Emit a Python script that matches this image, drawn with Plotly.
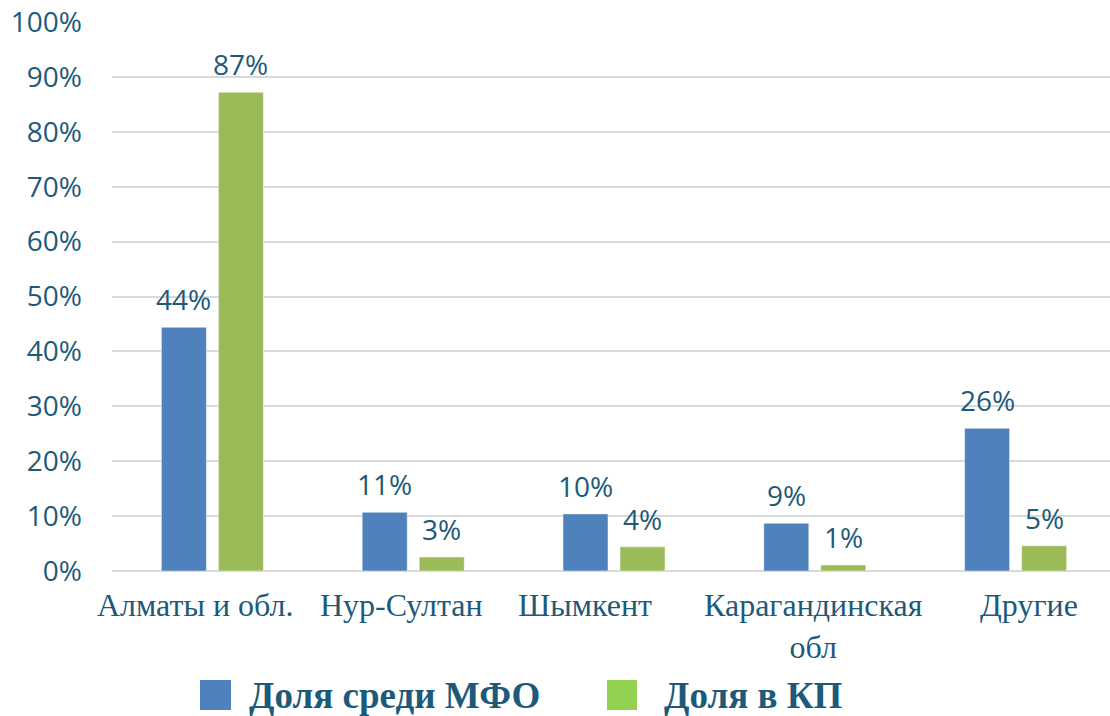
import plotly.graph_objects as go

categories = ["Алматы и обл.", "Нур-Султан", "Шымкент", "Карагандинская<br>обл", "Другие"]
mfo_share = [0.444, 0.107, 0.104, 0.087, 0.260]
kp_share = [0.872, 0.0255, 0.044, 0.011, 0.046]
series_names = ["Доля среди МФО", "Доля в КП"]
y_ticks = [0, 0.1, 0.2, 0.3, 0.4, 0.5, 0.6, 0.7, 0.8, 0.9, 1.0]

# horizontal nudge of each category label (px), as in the original layout
label_nudge = [-17, -12, -29, -1, 13]

TEXT = "#1D5A7A"
BLUE = "#4F81BD"
GREEN = "#9BBB59"

fig = go.Figure()
fig.add_trace(go.Bar(x=categories, y=mfo_share, name=series_names[0],
                     marker=dict(color=BLUE, line=dict(color="rgba(255,255,255,0.5)", width=1)),
                     showlegend=False))
fig.add_trace(go.Bar(x=categories, y=kp_share, name=series_names[1],
                     marker=dict(color=GREEN, line=dict(color="rgba(255,255,255,0.5)", width=1)),
                     showlegend=False))

# data labels
for vals, shift in ((mfo_share, -28.5), (kp_share, 28.5)):
    for c, v in zip(categories, vals):
        fig.add_annotation(x=c, y=v, xref="x", yref="y", text=f"{round(v*100):.0f}%",
                           showarrow=False, xshift=shift, yshift=7, yanchor="bottom",
                           font=dict(family="Open Sans", size=28, color=TEXT))

# category labels
for c, dx in zip(categories, label_nudge):
    fig.add_annotation(x=c, y=0, xref="x", yref="paper", text=c, showarrow=False,
                       xshift=dx, yshift=-14, yanchor="top", align="center",
                       font=dict(family="Liberation Serif", size=32, color=TEXT))

# manual legend
legend_items = [(series_names[0], BLUE, 200, 231, 247), (series_names[1], "#92D050", 607, 637, 662)]
for name, col, x0, x1, tx in legend_items:
    fig.add_shape(type="rect", xref="paper", yref="paper",
                  x0=(x0 - 112) / 998, x1=(x1 - 112) / 998,
                  y0=-(680 - 571) / 549, y1=-(710 - 571) / 549,
                  fillcolor=col, line=dict(width=0))
    fig.add_annotation(xref="paper", yref="paper", x=(tx - 112) / 998, y=-(695 - 571) / 549,
                       xanchor="left", yanchor="middle", showarrow=False, text=f"<b>{name}</b>",
                       font=dict(family="Liberation Serif", size=37, color=TEXT))

fig.update_layout(
    width=1110, height=716,
    margin=dict(l=112, r=0, t=22, b=145),
    paper_bgcolor="white", plot_bgcolor="white",
    barmode="group", bargap=0.432, bargroupgap=0.21,
    showlegend=False,
    xaxis=dict(type="category", range=[-0.5, 4.47], showgrid=False, ticks="",
               showline=False, showticklabels=False, automargin=False),
    yaxis=dict(range=[0, 1.0], tickvals=y_ticks, tickformat=".0%", showgrid=True,
               gridcolor="#D9D9D9", gridwidth=2, zeroline=True, zerolinecolor="#D9D9D9",
               zerolinewidth=2, showline=False, ticks="", ticklabelstandoff=29,
               automargin=False,
               tickfont=dict(family="Open Sans", size=28, color=TEXT)),
)

fig.write_html("out.html", config={"displayModeBar": False},
               post_script="document.body.style.margin='0';document.body.style.overflow='hidden';")
